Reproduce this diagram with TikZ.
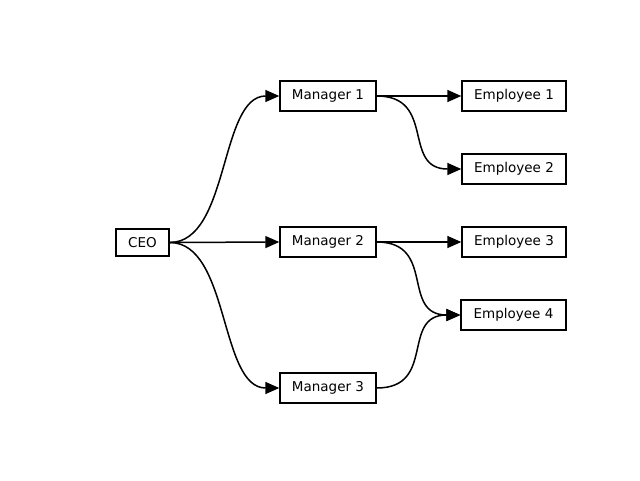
\documentclass[tikz,border=0pt]{standalone}
\usepackage{fontspec}
\setmainfont{DejaVu Sans}
\usetikzlibrary{arrows.meta}
\begin{document}
\begin{tikzpicture}[x=1pt,y=-1pt,
  box/.style={draw,line width=1.4pt,inner sep=0pt,font=\fontsize{13.5}{14}\selectfont},
  edge/.style={line width=1.5pt,-{Triangle[length=14pt,width=12pt]}}]
\useasboundingbox (0,0) rectangle (640,480);
\node[box,minimum width=53,minimum height=27] (ceo) at (142.5,242.5) {CEO};
\node[box,minimum width=96,minimum height=30] (m1) at (328,96) {Manager 1};
\node[box,minimum width=96,minimum height=30] (m2) at (328,242) {Manager 2};
\node[box,minimum width=96,minimum height=30] (m3) at (328,388) {Manager 3};
\node[box,minimum width=104,minimum height=30] (e1) at (514,96) {Employee 1};
\node[box,minimum width=104,minimum height=30] (e2) at (514,169) {Employee 2};
\node[box,minimum width=104,minimum height=30] (e3) at (514,242) {Employee 3};
\node[box,minimum width=105,minimum height=30] (e4) at (513.5,315) {Employee 4};
\newcommand{\sedge}[2]{\draw[edge] (#1.east) .. controls ([xshift=60]#1.east) and ([xshift=-60]#2.west) .. (#2.west);}
\sedge{ceo}{m1}
\draw[edge] (ceo.east) -- (m2.west);
\sedge{ceo}{m3}
\draw[edge] (m1.east) -- (e1.west);
\sedge{m1}{e2}
\draw[edge] (m2.east) -- (e3.west);
\sedge{m2}{e4}
\sedge{m3}{e4}
\end{tikzpicture}
\end{document}
